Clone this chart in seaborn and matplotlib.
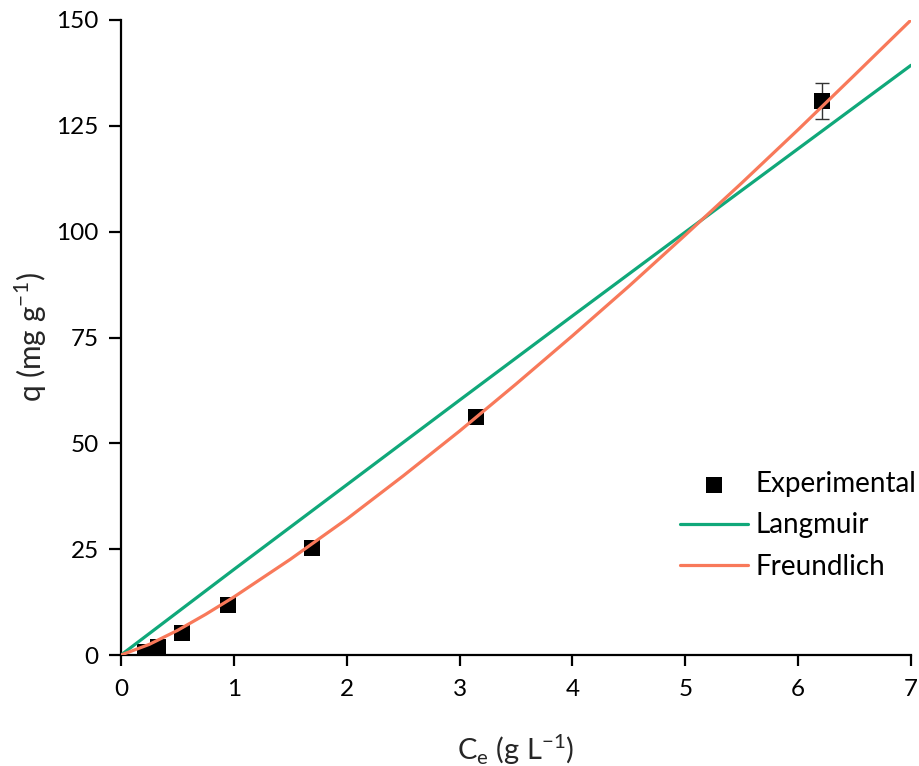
import numpy as np
import pandas as pd
import matplotlib
matplotlib.use("Agg")
import matplotlib.pyplot as plt
import seaborn as sns

# Experimental data
ce_exp = [0.21, 0.33, 0.54, 0.945, 1.69, 3.15, 6.21]
q_exp = [0.7, 2.0, 5.1, 11.8, 25.3, 56.2, 130.9]
q_err = [0, 0, 0, 0, 0, 0, 4.3]

# Langmuir fit curve
ce_lang = [0, 1, 2, 3, 4, 5, 6, 7]
q_lang = [0, 20.2, 40.2, 60.2, 80.1, 99.9, 119.6, 139.3]

# Freundlich fit curve
ce_freu = [0, 0.25, 0.5, 0.75, 1, 1.5, 2, 2.5, 3, 3.5, 4, 4.5, 5, 5.5, 6, 6.5, 7]
q_freu = [0, 2.5, 5.8, 9.6, 13.7, 22.6, 32.1, 42.3, 52.9, 64.0, 75.4, 87.1, 99.2, 111.5, 124.1, 137.0, 150.0]

xticks = [0, 1, 2, 3, 4, 5, 6, 7]
yticks = [0, 25, 50, 75, 100, 125, 150]

sns.set_theme(style="ticks")
plt.rcParams['font.family'] = ['Lato', 'DejaVu Sans']

fig = plt.figure(figsize=(9.19, 7.66), dpi=100)
ax = fig.add_axes([121/919, 1-655/766, (911-121)/919, (655-20)/766])

green = "#10a87a"
orange = "#f8795a"

exp_df = pd.DataFrame({"Ce": ce_exp, "q": q_exp})
ax.errorbar(ce_exp, q_exp, yerr=q_err, fmt='none', ecolor='#333333', elinewidth=1.0,
            capsize=4.7, capthick=1.0, zorder=2)
sns.scatterplot(data=exp_df, x="Ce", y="q", marker='s', s=120, color='black',
                edgecolor='black', linewidth=0, ax=ax, zorder=3, label="Experimental")
sns.lineplot(x=ce_lang, y=q_lang, color=green, linewidth=2.3, ax=ax, zorder=4, label="Langmuir")
sns.lineplot(x=ce_freu, y=q_freu, color=orange, linewidth=2.3, ax=ax, zorder=5, label="Freundlich")

ax.set_xlim(0, 7)
ax.set_ylim(0, 150)
ax.set_xticks(xticks)
ax.set_yticks(yticks)
ax.tick_params(axis='both', direction='out', length=9, width=1.6, labelsize=17.5, colors='black', pad=7)
ax.tick_params(axis='x', length=8, pad=9)
for s in ['top', 'right']:
    ax.spines[s].set_visible(False)
for s in ['left', 'bottom']:
    ax.spines[s].set_linewidth(1.6)
    ax.spines[s].set_color('black')
for lbl in ax.get_xticklabels() + ax.get_yticklabels():
    lbl.set_clip_on(False)

ax.set_xlabel(r"C$_\mathregular{e}$ (g L$^{\mathregular{-1}}$)", fontsize=21)
ax.set_ylabel(r"q (mg g$^{\mathregular{-1}}$)", fontsize=21.5, labelpad=5)
ax.xaxis.set_label_coords(0.5, -0.122)

leg = ax.legend(loc='upper left', bbox_to_anchor=(680/919, 1-471/766), bbox_transform=fig.transFigure,
                frameon=False, fontsize=20, handlelength=2.45, handletextpad=0.25, labelspacing=0.55,
                borderaxespad=0, borderpad=0)
for t in leg.get_texts():
    t.set_color('black')

fig.savefig("out.png", dpi=100)
